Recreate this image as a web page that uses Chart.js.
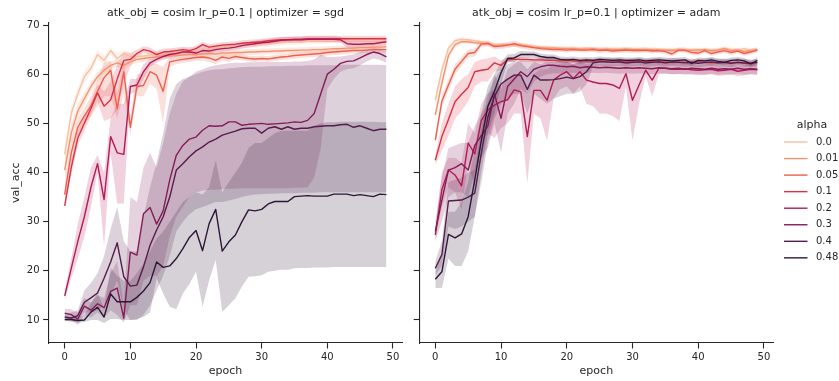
<!DOCTYPE html>
<html><head><meta charset="utf-8">
<script src="https://cdn.jsdelivr.net/npm/chart.js@4.4.1/dist/chart.umd.min.js"></script>
<style>
html,body{margin:0;padding:0;background:#fff;}
#wrap{position:relative;width:839px;height:381px;overflow:hidden;background:#fff;}
canvas{position:absolute;top:0;}
#c1{left:0;} #c2{left:405px;}
</style></head><body>
<div id="wrap"><canvas id="c1" width="405" height="381"></canvas><canvas id="c2" width="434" height="381"></canvas></div>
<script>
const epochs = [0,1,2,3,4,5,6,7,8,9,10,11,12,13,14,15,16,17,18,19,20,21,22,23,24,25,26,27,28,29,30,31,32,33,34,35,36,37,38,39,40,41,42,43,44,45,46,47,48,49];
const alphaLabels = ['0.0','0.01','0.05','0.1','0.2','0.3','0.4','0.48'];
const xTickValues = [0,10,20,30,40,50];
const yTickValues = [10,20,30,40,50,60,70];
const palette = ['#f7c0a0','#f4926d','#ed604c','#db3044','#b31a56','#841c58','#551c4c','#2d1739'];
const titleSgd = 'atk_obj = cosim lr_p=0.1 | optimizer = sgd';
const titleAdam = 'atk_obj = cosim lr_p=0.1 | optimizer = adam';

// ---------- optimizer = sgd ----------
const sgd_00 = [43.7,52,56,59.5,61.2,64,62.8,64.8,63.2,64.2,63.5,63.6,63.7,63.9,64.1,64.2,64.5,64.6,64.8,64.9,65,65.2,65.3,65.4,65.5,65.6,65.7,65.8,65.9,66,66.1,66.2,66.3,66.4,66.5,66.6,66.6,66.7,66.8,66.8,66.9,66.9,66.9,66.9,66.9,66.9,66.9,66.9,66.9,66.9];
const sgd_00_lo = [42,51,55,58.2,60.2,63,61.8,64,62.3,63.4,62.8,63,63.1,63.3,63.5,63.6,63.9,64,64.2,64.3,64.4,64.6,64.7,64.8,64.9,65,65.1,65.2,65.3,65.4,65.5,65.6,65.7,65.8,65.9,66,66,66.1,66.2,66.2,66.3,66.3,66.3,66.3,66.3,66.3,66.3,66.3,66.3,66.3];
const sgd_00_hi = [45.5,53.5,57.2,60.8,62.4,65,63.8,65.6,64.2,65,64.2,64.3,64.3,64.5,64.7,64.8,65.1,65.2,65.4,65.5,65.6,65.8,65.9,66,66.1,66.2,66.3,66.4,66.5,66.6,66.7,66.8,66.9,67,67.1,67.2,67.2,67.3,67.4,67.4,67.5,67.5,67.5,67.5,67.5,67.5,67.5,67.5,67.5,67.5];
const sgd_01 = [40.5,48,52.5,55,57.5,59.5,60.8,61.8,62.3,61.8,62.5,63,63.2,63.4,63.5,63.6,63.7,63.8,63.9,64,64,64.1,64.2,64.1,64.3,64.3,64.4,64.4,64.5,64.5,64.6,64.6,64.7,64.7,64.8,64.8,64.9,64.9,65,65,65.1,65.2,65.2,65.3,65.3,65.4,65.4,65.5,65.5,65.6];
const sgd_01_lo = [38,46,51,53.8,56.5,58.5,60,61,61.5,61,61.8,62.3,62.5,62.8,62.9,63,63.1,63.2,63.3,63.4,63.4,63.5,63.6,63.5,63.7,63.7,63.8,63.8,63.9,63.9,64,64,64.1,64.1,64.2,64.2,64.3,64.3,64.4,64.4,64.5,64.6,64.6,64.7,64.7,64.8,64.8,64.9,64.9,65];
const sgd_01_hi = [43,50,54,56.2,58.5,60.5,61.6,62.6,63.1,62.6,63.2,63.7,63.9,64,64.1,64.2,64.3,64.4,64.5,64.6,64.6,64.7,64.8,64.7,64.9,64.9,65,65,65.1,65.1,65.2,65.2,65.3,65.3,65.4,65.4,65.5,65.5,65.6,65.6,65.7,65.8,65.8,65.9,65.9,66,66,66.1,66.1,66.2];
const sgd_05 = [35.5,44,49.2,51.5,53.5,56.5,59.3,60.8,53,60.5,49.2,57.5,57.7,60.5,59.8,56.5,62.5,62.8,63,63.2,63.4,63.5,63.3,62.8,63.5,63.2,63.6,63.4,63.2,63.1,63.2,63.1,63.3,63.5,63.6,63.8,63.9,64,64.1,64.2,64.4,64.5,64.6,64.7,64.8,64.8,64.9,65,65,65];
const sgd_05_lo = [33.5,41.5,47.5,50,51.5,53.5,55.5,55.5,51,56,47.5,55.5,55.5,58,57,50,61.5,62,62.3,62.5,62.7,62.8,62.5,62,62.8,62.5,63,62.8,62.6,62.5,62.6,62.5,62.7,62.9,63,63.2,63.3,63.4,63.5,63.6,63.8,63.9,64,64.1,64.2,64.2,64.3,64.4,64.4,64.4];
const sgd_05_hi = [37.5,46.5,51,53,55.5,59,62.5,62.8,56,63,51.5,60,60,62.3,62,61.5,63.5,63.6,63.8,64,64.1,64.2,64,63.6,64.2,63.9,64.2,64,63.8,63.7,63.8,63.7,63.9,64.1,64.2,64.4,64.5,64.6,64.7,64.8,65,65.1,65.2,65.3,65.4,65.4,65.5,65.6,65.6,65.6];
const sgd_1 = [33.2,41,47,50,53,56.2,53.5,54.8,59,62.8,63,64.2,65,64.7,64,64.5,64.6,64.8,65,64.8,65.2,66,65.5,65.7,65.9,66,66.1,66.3,66.4,66.5,66.6,66.8,66.9,67,67,67.1,67.1,67.2,67.2,67.2,67.2,67.2,67.2,67.2,67.2,67.2,67.2,67.2,67.2,67.2];
const sgd_1_lo = [32.5,39.5,45.5,48.5,51.5,54.5,50.5,51,52.7,58,61.5,63.5,64.3,64,63.3,63.8,64,64.2,64.4,64.2,64.6,65.4,64.9,65.1,65.3,65.4,65.5,65.7,65.8,65.9,66,66.2,66.3,66.4,66.4,66.5,66.5,66.6,66.6,66.6,66.6,66.6,66.6,66.6,66.6,66.6,66.6,66.6,66.6,66.6];
const sgd_1_hi = [34,42.5,48.5,51.5,54.5,58,56.5,58.5,62,64.5,64.3,65,65.7,65.4,64.7,65.2,65.2,65.4,65.6,65.4,65.8,66.6,66.1,66.3,66.5,66.6,66.7,66.9,67,67.1,67.2,67.4,67.5,67.6,67.6,67.7,67.7,67.8,67.8,67.8,67.8,67.8,67.8,67.8,67.8,67.8,67.8,67.8,67.8,67.8];
const sgd_2 = [14.9,20.5,26,31,37,41.8,34.5,47.3,44,43.7,57.5,57.8,60.5,62.3,63,63.6,64,64.2,64.5,64.5,64.3,64.8,64.7,65,65.2,65.3,65.5,65.8,66,66.2,66.4,66.5,66.7,66.9,67,67,67,67.1,67.1,67.1,67.1,67.1,67,66.2,66.1,66.1,66.2,66.2,66.4,66.6];
const sgd_2_lo = [14,18.5,22.5,27,33,40,25,44,33.7,33.7,56,56.5,59,61.5,62.3,63,63.4,63.6,63.9,63.9,63.7,64.2,64.1,64.4,64.6,64.7,64.9,65.2,65.4,65.6,65.8,65.9,66.1,66.3,66.4,66.4,66.4,66.5,66.5,66.5,66.5,66.5,66.4,65.4,65.3,65.3,65.4,65.4,65.7,66];
const sgd_2_hi = [16,22.5,29.5,35,41,43.5,40,51,54,54,59,59,62,63.1,63.7,64.2,64.6,64.8,65.1,65.1,64.9,65.4,65.3,65.6,65.8,65.9,66.1,66.4,66.6,66.8,67,67.1,67.3,67.5,67.6,67.6,67.6,67.7,67.7,67.7,67.7,67.7,67.6,67,66.9,66.9,67,67,67.1,67.2];
const sgd_3 = [11.4,11.1,10.2,12.8,12,13.3,12.5,15.8,16.5,10.4,23.8,23.2,31.6,32.9,29.5,32.2,38.5,43.5,45.5,46.8,47.2,48.6,49.5,49.4,49.5,50.3,50.3,49.6,49.8,49.9,50,49.8,49.9,50,50.1,50.3,50.2,50.6,52,56,60,61,62.2,62.6,62.7,63.3,64,64.5,64.2,63.5];
const sgd_3_lo = [10.5,10,9,11,10.5,11.5,10.5,12,11,9.5,13,13,18,19,19,21,27,31,33,35,36,36.3,36.5,36.5,36.6,36.7,36.7,36.8,36.8,36.8,36.8,36.8,36.8,36.8,36.8,36.9,36.9,37,39,45,57,59,60.5,61,61.2,61.8,62.6,63.2,62.9,62.3];
const sgd_3_hi = [12.3,12.2,11.5,14.5,13.5,15,14.5,19.5,22,13,35,34,41,44,41,46,52,56,58.5,59.5,60.5,61,61.5,61.8,62,62.2,62.3,62.3,62.4,62.4,62.5,62.5,62.5,62.5,62.5,62.6,62.6,62.7,63,64,63.5,63.5,63.6,63.8,64,64.5,65,65.3,65.2,64.6];
const sgd_4 = [10.6,10.4,10.9,13.6,14.5,15.5,18.5,21.8,25.7,18.8,16.9,17.1,20.8,25.2,28.3,31,35,40.5,41.8,43.2,44.4,45.2,46.2,46.8,47.6,48,48.4,48.9,49,49,48,49,49.3,48.8,49.3,48.8,49,49,49.3,49.4,49.5,49.5,49.7,49.8,49.2,49.5,49,48.5,48.8,48.8];
const sgd_4_lo = [10,9.6,9.8,11.5,11.5,12,13,15,18,12,10,10,11,13,16,19,23,28,30,31.5,32.5,33,33.5,34,34,34.3,34.6,35,35.3,35.5,35.6,35.7,35.7,35.8,35.8,35.8,35.9,35.9,35.9,36,36,36,36,36,36,36,36,36,36,36];
const sgd_4_hi = [11.2,11.5,12,16,17.5,19.5,23,28.5,33,26,24,24,31,37,42,48,55,58,59,59.5,60,60.5,60.8,61,61,61.2,61.3,61.4,61.5,61.5,61.5,61.6,61.6,61.6,61.7,61.7,61.7,61.8,61.8,61.8,61.8,61.8,61.9,61.9,61.9,61.9,61.9,61.9,61.9,61.8];
const sgd_48 = [10.1,10.1,9.9,10,11.6,12.6,10.6,15.3,13.7,13.7,13.7,14.6,15.9,17.6,21.8,20.7,21,22.5,24.5,26.8,28.2,24.1,29.6,32.5,24,25.9,27.3,30,32.4,32.2,32.5,33.6,34.1,34.1,34.1,35.1,35.2,35.3,35.2,35.2,35.2,35.6,35.6,35.6,35.3,35.5,35.3,35.1,35.6,35.5];
const sgd_48_lo = [9.8,9.8,9.4,9.6,10,10,9.4,10.2,10.2,10,10,10.2,10.6,11.5,18.5,15.4,12.7,12.2,15.4,17.3,19.8,12.7,18.1,22.2,11.7,13,14.4,16.8,18.8,18.9,19.1,19.8,20,20.2,20.2,20.5,20.6,20.6,20.7,20.7,20.7,20.8,20.8,20.8,20.8,20.8,20.8,20.8,20.8,20.8];
const sgd_48_hi = [10.5,10.5,10.5,11,13.5,15.5,12.5,20.5,19,18,18,19.5,21.5,24,26.5,28,30,32,34,35,36,35.5,37,42.5,36,38,40,42,45,46,46,47,48,48.5,48.5,48.5,48.5,48.5,49.5,50,50.2,50.2,50.3,50.3,50.3,50.3,50.3,50.3,50.2,50.2];

// ---------- optimizer = adam ----------
const adam_00 = [54.7,60.8,65.3,66.8,67.1,67,66.8,66.6,66.3,66.1,66,66,66,65.9,65.8,65.6,65.5,65.5,65.4,65.4,65.3,65.3,65.2,65.3,65.2,65.2,65.1,65.2,65.1,65.2,65.1,65.1,65.2,65,65,64.9,65,65.1,65,64.9,65,64.8,64.9,65,65.3,65,64.9,65.2,64.9,65.1];
const adam_00_lo = [53.5,59.8,64.6,66.3,66.7,66.6,66.4,66.2,65.9,65.7,65.6,65.6,65.6,65.5,65.4,65.2,65.1,65.1,65,65,64.9,64.9,64.8,64.9,64.8,64.8,64.7,64.8,64.7,64.8,64.7,64.7,64.8,64.6,64.6,64.5,64.6,64.7,64.6,64.5,64.6,64.4,64.5,64.6,64.9,64.6,64.5,64.8,64.5,64.7];
const adam_00_hi = [55.9,61.8,66,67.3,67.5,67.4,67.2,67,66.7,66.5,66.4,66.4,66.4,66.3,66.2,66,65.9,65.9,65.8,65.8,65.7,65.7,65.6,65.7,65.6,65.6,65.5,65.6,65.5,65.6,65.5,65.5,65.6,65.4,65.4,65.3,65.4,65.5,65.4,65.3,65.4,65.2,65.3,65.4,65.7,65.4,65.3,65.6,65.3,65.5];
const adam_01 = [51.7,58.2,63.8,66,66.6,66.6,66.4,66.3,66.1,65.8,65.9,66,66,65.9,65.7,65.5,65.4,65.3,65.3,65.2,65.2,65.2,65.1,65.1,65.2,65,65.1,65,65,65.1,65,65,64.9,65,64.9,64.9,64.8,64.9,64.8,64.9,64.9,65,64.8,64.9,65.2,64.8,64.9,64.6,64.8,65];
const adam_01_lo = [50.5,57.2,63,65.5,66.2,66.2,66,65.9,65.7,65.4,65.5,65.6,65.6,65.5,65.3,65.1,65,64.9,64.9,64.8,64.8,64.8,64.7,64.7,64.8,64.6,64.7,64.6,64.6,64.7,64.6,64.6,64.5,64.6,64.5,64.5,64.4,64.5,64.4,64.5,64.5,64.6,64.4,64.5,64.8,64.4,64.5,64.2,64.4,64.6];
const adam_01_hi = [52.9,59.2,64.6,66.5,67,67,66.8,66.7,66.5,66.2,66.3,66.4,66.4,66.3,66.1,65.9,65.8,65.7,65.7,65.6,65.6,65.6,65.5,65.5,65.6,65.4,65.5,65.4,65.4,65.5,65.4,65.4,65.3,65.4,65.3,65.3,65.2,65.3,65.2,65.3,65.3,65.4,65.2,65.3,65.6,65.2,65.3,65,65.2,65.4];
const adam_05 = [46.6,54.5,57.8,61,62.6,64.2,64.4,66.1,66.3,65.6,65.7,65.9,66.2,65.8,65.6,65.4,65.2,65.1,65,65,64.9,65,64.9,64.9,65,64.8,64.9,64.7,64.8,64.9,64.8,64.8,64.9,64.7,64.8,64.6,64.1,64.9,64.9,64.4,64.3,64.8,64.2,64.5,64.8,64.4,64.7,64.2,64.5,64.9];
const adam_05_lo = [45.5,53.3,56.6,60,61.7,63.4,63.6,65.5,65.7,65,65.1,65.3,65.6,65.2,65,64.8,64.7,64.6,64.5,64.5,64.4,64.5,64.4,64.4,64.5,64.3,64.4,64.2,64.3,64.4,64.3,64.3,64.4,64.2,64.3,64.1,63.6,64.4,64.4,63.9,63.8,64.3,63.7,64,64.3,63.9,64.2,63.7,64,64.4];
const adam_05_hi = [47.7,55.7,59,62,63.5,65,65.2,66.7,66.9,66.2,66.3,66.5,66.8,66.4,66.2,66,65.7,65.6,65.5,65.5,65.4,65.5,65.4,65.4,65.5,65.3,65.4,65.2,65.3,65.4,65.3,65.3,65.4,65.2,65.3,65.1,64.6,65.4,65.4,64.9,64.8,65.3,64.7,65,65.3,64.9,65.2,64.7,65,65.4];
const adam_1 = [42.5,47.3,50.8,54.4,55.9,57.3,60.5,60.8,61,62.3,61.8,62.9,63,63,63,62.9,62.9,62.8,62.8,62.7,62.8,62.7,62.6,62.7,62.6,62.7,62.6,62.7,62.6,62.5,62.6,62.5,62.5,62.6,62.5,62.5,62.4,62.5,62.4,62.5,62.5,62.4,62.3,62.4,62.5,62.3,62.4,62.2,62.3,62.3];
const adam_1_lo = [41.5,44.5,47.5,51,52.5,54.5,57.5,58.5,58.5,60.5,60.8,62.3,62.5,62.5,62.5,62.4,62.4,62.3,62.3,62.2,62.3,62.2,62.1,62.2,62.1,62.2,62.1,62.2,62.1,62,62.1,62,62,62.1,62,62,61.9,62,61.9,62,62,61.9,61.8,61.9,62,61.8,61.9,61.7,61.8,61.8];
const adam_1_hi = [43.5,50,54,57.5,59,60,62.5,63,63.2,63.6,62.8,63.5,63.5,63.5,63.5,63.4,63.4,63.3,63.3,63.2,63.3,63.2,63.1,63.2,63.1,63.2,63.1,63.2,63.1,63,63.1,63,63,63.1,63,63,62.9,63,62.9,63,63,62.9,62.8,62.9,63,62.8,62.9,62.7,62.8,62.8];
const adam_2 = [27.3,36.5,40.5,39.5,37.3,46,43.8,50.6,52.7,53.7,54.4,54.8,56.8,56.4,47.3,56.7,56.7,54.7,58.8,59.8,60.5,59.1,60.5,58.8,58.4,58.1,58.1,57.8,57.1,60.1,54.7,57.8,60.8,58.8,61.2,61.2,61,61,61.1,60.9,60.8,60.9,61,60.7,60.8,61,60.6,60.8,61,60.9];
const adam_2_lo = [26,33,37,36,32.5,42,37,46,48,47,49,50,52,52,37.8,52,51,46.5,55,57,57.5,56,57.5,54,53.5,52,52,51.5,50.5,57.5,46.5,54,59.5,55.5,60,60.2,60,60,60.1,59.9,59.8,59.9,60,59.7,59.8,60,59.6,59.8,60,59.9];
const adam_2_hi = [29,40,43,43,42,50,48,54,56,57,58,59,60,60,56,60,61,61,62,62,62.5,62,62.5,62,62,62,62,62,62,62.5,62,62,62.2,62,62.2,62.2,62,62,62.1,61.9,61.8,61.9,62,61.7,61.8,62,61.6,61.8,62,61.9];
const adam_3 = [28,34.4,40.5,41,41.8,40.5,45.5,47.5,49.5,56,51,57.5,59,60.5,59.5,61,61.5,61.8,61.8,61.6,61.5,61.6,61.3,61.5,61.4,61.3,61.4,61.3,61.2,61.3,61.2,61.3,61.2,61.1,61.3,61.2,61.1,61.2,61,61.2,61.1,61,61.2,61,61.1,61,61.2,61,61.1,61];
const adam_3_lo = [26,30,35,36,36,35,40,43,45,50,44,52,54,57,56,58.5,59.5,60,60.2,60.2,60.2,60.3,60.2,60.3,60.3,60.2,60.3,60.2,60.1,60.2,60.1,60.2,60.1,60,60.2,60.1,60,60.1,59.9,60.1,60,59.9,60.1,59.9,60,59.9,60.1,59.9,60,59.9];
const adam_3_hi = [30,39,45,45.5,46,46,49.5,52,54,60,57,61,62,63,63,63,63.2,63.3,63.3,63.2,63,63,62.8,62.8,62.7,62.6,62.6,62.5,62.4,62.5,62.4,62.5,62.4,62.3,62.5,62.4,62.3,62.4,62.2,62.4,62.3,62.2,62.4,62.2,62.3,62.2,62.4,62.2,62.3,62.2];
const adam_4 = [20.5,23.3,34.2,34.3,34.4,35,35.8,43.9,51.3,55.5,58,59,59.8,59.8,56.9,59.8,58.8,58.8,58.9,59.1,59.4,59.1,59.5,60.5,62.3,62.5,62.5,62.4,62.5,62.3,62.4,62.5,62.3,62.4,62.5,62.3,62.5,62.4,62.3,62.4,62.2,62.4,62.5,62.3,62.4,62.2,62.4,62.3,62.2,62.4];
const adam_4_lo = [19,21,29,28.5,29,30,31,38,46,51,54,55,56,56,52,56,55,54,55,55.5,56,56,56.5,58,61.5,61.7,61.7,61.6,61.7,61.5,61.6,61.7,61.5,61.6,61.7,61.5,61.7,61.6,61.5,61.6,61.4,61.6,61.7,61.5,61.6,61.4,61.6,61.5,61.4,61.6];
const adam_4_hi = [22,26,38,38.5,39,40,40.5,49,56,59,61,62,62.5,62.5,61,62.5,62,62.5,62.5,62.5,62.5,62,62.5,63,63.1,63.3,63.3,63.2,63.3,63.1,63.2,63.3,63.1,63.2,63.3,63.1,63.3,63.2,63.1,63.2,63,63.2,63.3,63.1,63.2,63,63.2,63.1,63,63.2];
const adam_48 = [18.3,19.8,27.4,26.7,27.5,31,38.5,46.5,53.5,56.5,60.3,63.2,63.3,64,64,64,63.6,63.4,63.4,63,62.9,63,62.8,62.9,62.8,63,62.9,62.8,62.9,62.8,62.8,62.9,62.7,62.8,62.9,62.8,62.7,62.8,62.9,62.2,62.8,62.7,62.9,62.6,62.4,62.8,62.9,62.7,62.1,62.8];
const adam_48_lo = [16.5,16.5,22.5,21,21,24,31,40,48,52,58,62.5,62.5,63.3,63.4,63.4,63,62.8,62.8,62.4,62.3,62.4,62.2,62.3,62.2,62.4,62.3,62.2,62.3,62.2,62.2,62.3,62.1,62.2,62.3,62.2,62.1,62.2,62.3,61.6,62.2,62.1,62.3,62,61.8,62.2,62.3,62.1,61.5,62.2];
const adam_48_hi = [20,23,32,32,34,38,45,52,57.5,60,62.5,64,64.1,64.7,64.6,64.6,64.2,64,64,63.6,63.5,63.6,63.4,63.5,63.4,63.6,63.5,63.4,63.5,63.4,63.4,63.5,63.3,63.4,63.5,63.4,63.3,63.4,63.5,62.8,63.4,63.3,63.5,63.2,63,63.4,63.5,63.3,62.7,63.4];

const sgdLines = [sgd_00, sgd_01, sgd_05, sgd_1, sgd_2, sgd_3, sgd_4, sgd_48];
const sgdLo = [sgd_00_lo, sgd_01_lo, sgd_05_lo, sgd_1_lo, sgd_2_lo, sgd_3_lo, sgd_4_lo, sgd_48_lo];
const sgdHi = [sgd_00_hi, sgd_01_hi, sgd_05_hi, sgd_1_hi, sgd_2_hi, sgd_3_hi, sgd_4_hi, sgd_48_hi];
const adamLines = [adam_00, adam_01, adam_05, adam_1, adam_2, adam_3, adam_4, adam_48];
const adamLo = [adam_00_lo, adam_01_lo, adam_05_lo, adam_1_lo, adam_2_lo, adam_3_lo, adam_4_lo, adam_48_lo];
const adamHi = [adam_00_hi, adam_01_hi, adam_05_hi, adam_1_hi, adam_2_hi, adam_3_hi, adam_4_hi, adam_48_hi];

const INK = '#262626';
Chart.defaults.font.family = '"DejaVu Sans", sans-serif';
Chart.defaults.color = INK;

function rgba(hex, a) {
  const n = parseInt(hex.slice(1), 16);
  return 'rgba(' + ((n >> 16) & 255) + ',' + ((n >> 8) & 255) + ',' + (n & 255) + ',' + a + ')';
}
function pts(vals) { return vals.map((v, i) => ({x: epochs[i], y: v})); }

function buildDatasets(lines, los, his) {
  // matplotlib order (bottom first): all bands, then all lines
  const order = [];
  for (let k = 0; k < lines.length; k++) { order.push({kind: 'lo', k}); order.push({kind: 'hi', k}); }
  for (let k = 0; k < lines.length; k++) order.push({kind: 'line', k});
  const arr = order.slice().reverse(); // Chart.js draws index 0 on top
  const loIndex = {};
  arr.forEach((it, i) => { if (it.kind === 'lo') loIndex[it.k] = i; });
  return arr.map(it => {
    const c = palette[it.k];
    if (it.kind === 'line') {
      return {label: alphaLabels[it.k], data: pts(lines[it.k]), borderColor: c, backgroundColor: c,
        borderWidth: 1.4, pointRadius: 0, fill: false, tension: 0, borderJoinStyle: 'round', borderCapStyle: 'butt'};
    }
    if (it.kind === 'lo') {
      return {label: '_lo' + it.k, data: pts(los[it.k]), borderColor: 'rgba(0,0,0,0)', borderWidth: 0,
        pointRadius: 0, fill: false, tension: 0};
    }
    return {label: '_hi' + it.k, data: pts(his[it.k]), borderColor: 'rgba(0,0,0,0)', borderWidth: 0,
      pointRadius: 0, tension: 0, fill: {target: loIndex[it.k]}, backgroundColor: rgba(c, 0.2)};
  });
}

const legendPlugin = {
  id: 'seaLegend',
  afterDraw(chart) {
    const ctx = chart.ctx;
    ctx.save();
    ctx.fillStyle = INK;
    ctx.font = '11px "DejaVu Sans"';
    ctx.textAlign = 'center';
    ctx.textBaseline = 'middle';
    ctx.fillText('alpha', 407, 125);
    ctx.font = '10px "DejaVu Sans"';
    ctx.textAlign = 'left';
    alphaLabels.forEach((lab, i) => {
      const y = 142 + i * 16.55;
      ctx.strokeStyle = palette[i];
      ctx.lineWidth = 1.4;
      ctx.beginPath(); ctx.moveTo(379, y); ctx.lineTo(402.5, y); ctx.stroke();
      ctx.fillText(lab, 411, y);
    });
    ctx.restore();
  }
};

function makeChart(id, title, lines, los, his, isLeft) {
  const cfg = {
    type: 'line',
    data: {datasets: buildDatasets(lines, los, his)},
    options: {
      responsive: false, animation: false, devicePixelRatio: 1,
      layout: {padding: {left: 0, right: isLeft ? 2.5 : 65.5, top: 0, bottom: 0}},
      plugins: {
        legend: {display: false}, tooltip: {enabled: false},
        title: {display: true, text: title, fullSize: false, color: INK,
          font: {size: 11, weight: 'normal'}, padding: {top: 6.1, bottom: 3.2}},
        filler: {propagate: false}
      },
      scales: {
        x: {
          type: 'linear', min: -2.45, max: 51.45,
          afterBuildTicks: s => { s.ticks = xTickValues.map(v => ({value: v})); },
          afterFit: s => { s.height = 38; },
          grid: {display: true, drawOnChartArea: false, drawTicks: true, tickLength: 5.5, tickWidth: 1.1, tickColor: INK},
          border: {display: true, color: INK, width: 1.1},
          ticks: {color: INK, font: {size: 10}, padding: 3, maxRotation: 0, autoSkip: false},
          title: {display: true, text: 'epoch', color: INK, font: {size: 11}, padding: {top: 0, bottom: 3.4}}
        },
        y: {
          type: 'linear', min: 5.32, max: 70.51,
          afterBuildTicks: s => { s.ticks = yTickValues.map(v => ({value: v})); },
          afterFit: s => { s.width = isLeft ? 48.6 : 14.2; },
          grid: {display: true, drawOnChartArea: false, drawTicks: true, tickLength: 5.5, tickWidth: 1.1, tickColor: INK},
          border: {display: true, color: INK, width: 1.1},
          ticks: {display: isLeft, color: INK, font: {size: 10}, padding: 3.6, autoSkip: false},
          title: {display: isLeft, text: 'val_acc', color: INK, font: {size: 11}, padding: {top: 9.4, bottom: 0}}
        }
      }
    },
    plugins: isLeft ? [] : [legendPlugin]
  };
  return new Chart(document.getElementById(id), cfg);
}

makeChart('c1', titleSgd, sgdLines, sgdLo, sgdHi, true);
makeChart('c2', titleAdam, adamLines, adamLo, adamHi, false);
</script>
</body></html>
